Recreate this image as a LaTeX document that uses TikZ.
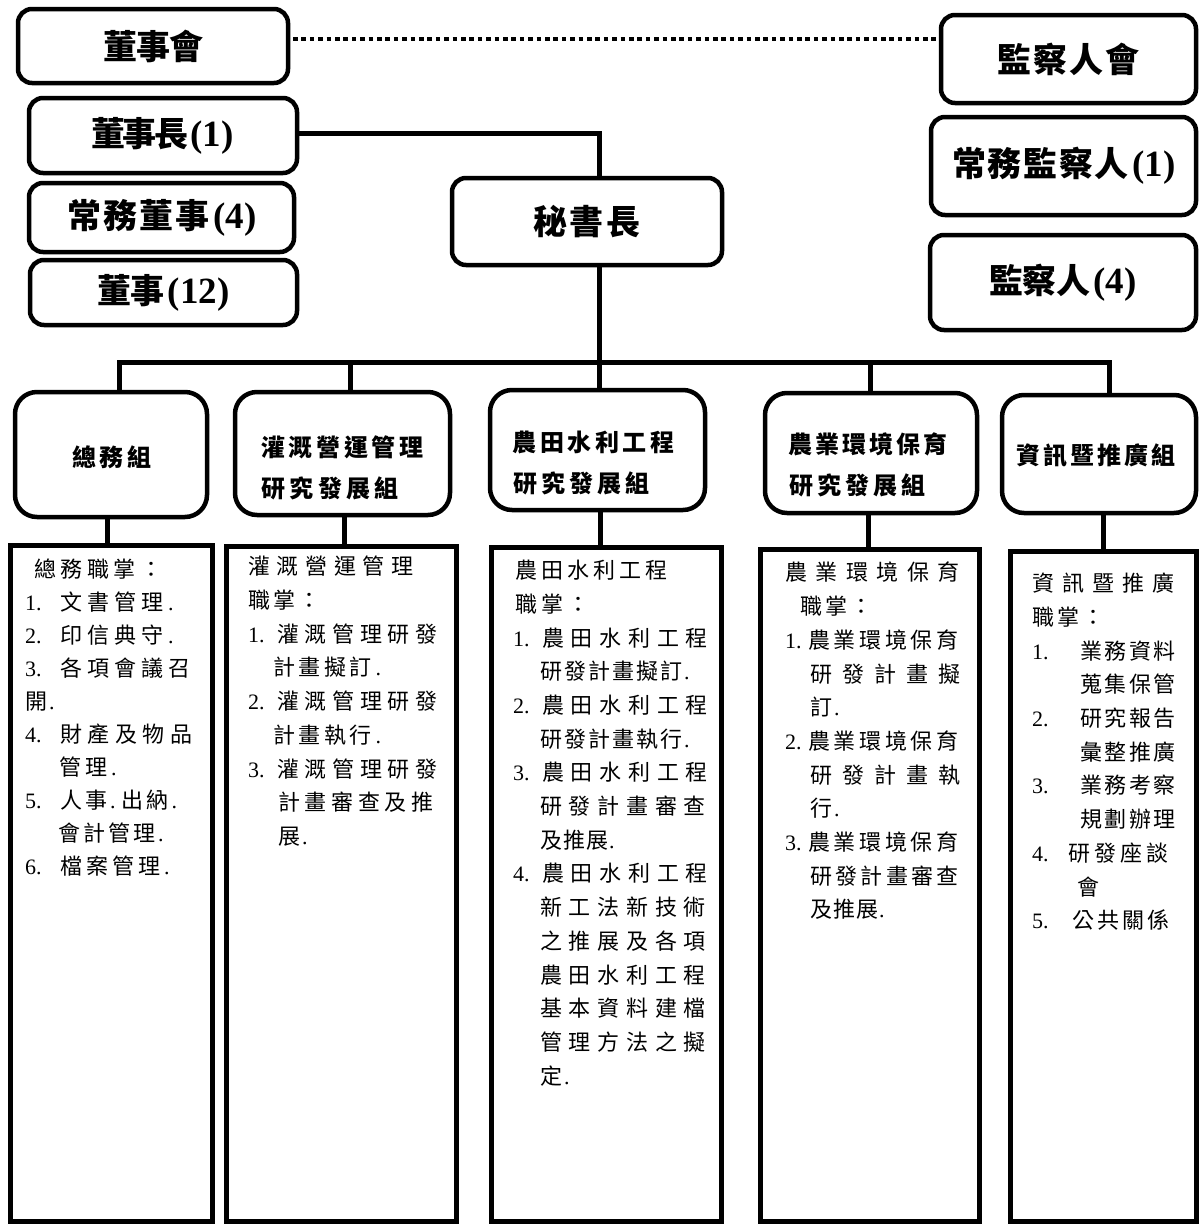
\documentclass[tikz,border=0pt]{standalone}
\usepackage{fontspec}
\setmainfont{Noto Sans CJK TC}
\newfontfamily\latf{Liberation Serif}
\makeatletter
\newcommand\cj[2]{\@tfor\cjt:=#2\do{\makebox[#1pt][l]{\cjt}}}
\newcommand\cjc[2]{\@tfor\cjt:=#2\do{\makebox[#1pt][c]{\cjt}}}
\makeatother
\newcommand\itm[2][29]{\makebox[#1pt][l]{\latf #2}}
\newcommand\pd{{\latf .}}
\newcommand\lp[1]{{\latf\bfseries\fontsize{37}{40}\selectfont\hspace{3pt}#1}}
\tikzset{
  topbox/.style={draw, line width=4.5pt, rounded corners=14pt, inner sep=0pt, outer sep=0pt,
    font=\bfseries\fontsize{34}{40}\selectfont},
  grpbox/.style={draw, line width=4.5pt, rounded corners=22pt, inner sep=0pt, outer sep=0pt},
  grptext/.style={inner sep=0pt, align=left, font=\bfseries\fontsize{24}{41}\selectfont},
  bodybox/.style={draw, line width=5pt, inner sep=0pt, outer sep=0pt},
  bodytext/.style={anchor=north west, inner sep=0pt, align=left, font=\fontsize{22}{33.7}\selectfont},
  conn/.style={line width=5pt},
  dotline/.style={line width=4.6pt, dash pattern=on 4.6pt off 3.8pt}
}
\begin{document}
\begin{tikzpicture}[x=1pt,y=-1pt]
\fill[white] (0,0) rectangle (1200,1226);
\useasboundingbox (0,0) rectangle (1200,1226);

% top boxes
\node[topbox, minimum width=270pt, minimum height=74pt] (bod) at (153,46) {\cjc{33}{董事會}};
\node[topbox, minimum width=268pt, minimum height=75pt] (chair) at (163,135.5) {\cjc{31.5}{董事長}\lp{(1)}};
\node[topbox, minimum width=265pt, minimum height=69pt] (std) at (161.5,217.5) {\cjc{36}{常務董事}\lp{(4)}};
\node[topbox, minimum width=267pt, minimum height=65pt] (dirs) at (163.5,292.5) {\cjc{33.5}{董事}\lp{(12)}};
\node[topbox, minimum width=270pt, minimum height=87pt] (sec) at (587,221.5) {\cjc{36.7}{秘書長}};
\node[topbox, minimum width=255pt, minimum height=88pt] (sup) at (1068.5,59) {\cjc{36}{監察人會}};
\node[topbox, minimum width=265pt, minimum height=98pt] (ssup) at (1063.5,166) {\cjc{35.6}{常務監察人}\lp{(1)}};
\node[topbox, minimum width=266pt, minimum height=95pt] (sups) at (1063,282.5) {\cjc{33.8}{監察人}\lp{(4)}};

% group boxes
\node[grpbox, minimum width=192pt, minimum height=125pt] (g1) at (111,454.5) {};
\node[grpbox, minimum width=215pt, minimum height=123pt] (g2) at (342.5,453.5) {};
\node[grpbox, minimum width=215pt, minimum height=120pt] (g3) at (597.5,450) {};
\node[grpbox, minimum width=212pt, minimum height=120pt] (g4) at (871,453) {};
\node[grpbox, minimum width=194pt, minimum height=118pt] (g5) at (1099,454) {};
\node[grptext] (gt1) at (112,457) {\cjc{27.4}{總務組}};
\node[grptext, anchor=west] (gt2) at (259,467.5) {\cjc{27.7}{灌溉營運管理}\\\cjc{28.4}{研究發展組}};
\node[grptext, anchor=west] (gt3) at (511,463) {\cjc{27.5}{農田水利工程}\\\cjc{28}{研究發展組}};
\node[grptext, anchor=west] (gt4) at (787,464.5) {\cjc{27}{農業環境保育}\\\cjc{28}{研究發展組}};
\node[grptext] (gt5) at (1095.5,456) {\cjc{27}{資訊暨推廣組}};

% body boxes
\node[bodybox, minimum width=202pt, minimum height=676pt] (b1) at (111,883) {};
\node[bodybox, minimum width=230pt, minimum height=675pt] (b2) at (341,883.5) {};
\node[bodybox, minimum width=230pt, minimum height=674pt] (b3) at (606,884) {};
\node[bodybox, minimum width=219pt, minimum height=672pt] (b4) at (869.5,885) {};
\node[bodybox, minimum width=186pt, minimum height=670pt] (b5) at (1103,886) {};

% body texts
\node[bodytext, font=\fontsize{22}{33}\selectfont] (t1) at (25,559) {%
\hspace*{9pt}\cj{26.5}{總務職掌：}\\
\itm[35]{1.}\cj{27}{文書管理}\pd\\
\itm[35]{2.}\cj{27}{印信典守}\pd\\
\itm[35]{3.}\cj{27}{各項會議召}\\
\cj{24}{開}\pd\\
\itm[35]{4.}\cj{27.5}{財產及物品}\\
\hspace*{34pt}\cj{26}{管理}\pd\\
\itm[35]{5.}\cj{25}{人事}\pd\hspace{6pt}\cj{25}{出納}\pd\\
\hspace*{33pt}\cj{25}{會計管理}\pd\\
\itm[35]{6.}\cj{26}{檔案管理}\pd};

\node[bodytext] (t2) at (248,556) {%
\cj{28.7}{灌溉營運管理}\\
\cj{25}{職掌：}\\
\itm{1.}\cj{27.7}{灌溉管理研發}\\
\hspace*{25pt}\cj{25.6}{計畫擬訂}\pd\\
\itm{2.}\cj{27.7}{灌溉管理研發}\\
\hspace*{25pt}\cj{25.6}{計畫執行}\pd\\
\itm{3.}\cj{27.7}{灌溉管理研發}\\
\hspace*{30pt}\cj{26.7}{計畫審查及推}\\
\hspace*{30pt}\cj{24}{展}\pd};

\node[bodytext] (t3) at (513,560) {%
\hspace*{2pt}\cj{26}{農田水利工程}\\
\hspace*{2pt}\cj{26}{職掌：}\\
\itm{1.}\cj{28.7}{農田水利工程}\\
\hspace*{27pt}\cj{24}{研發計畫擬訂}\pd\\
\itm{2.}\cj{28.7}{農田水利工程}\\
\hspace*{27pt}\cj{24}{研發計畫執行}\pd\\
\itm{3.}\cj{28.7}{農田水利工程}\\
\hspace*{27pt}\cj{28.7}{研發計畫審查}\\
\hspace*{27pt}\cj{23}{及推展}\pd\\
\itm{4.}\cj{28.7}{農田水利工程}\\
\hspace*{27pt}\cj{28.7}{新工法新技術}\\
\hspace*{27pt}\cj{28.7}{之推展及各項}\\
\hspace*{27pt}\cj{28.7}{農田水利工程}\\
\hspace*{27pt}\cj{28.7}{基本資料建檔}\\
\hspace*{27pt}\cj{28.7}{管理方法之擬}\\
\hspace*{27pt}\cj{24}{定}\pd};

\node[bodytext] (t4) at (785,562) {%
\cj{30.5}{農業環境保育}\\
\hspace*{15pt}\cj{25}{職掌：}\\
\itm[23]{1.}\cj{25.7}{農業環境保育}\\
\hspace*{25pt}\cj{32}{研發計畫擬}\\
\hspace*{25pt}\cj{24}{訂}\pd\\
\itm[23]{2.}\cj{25.7}{農業環境保育}\\
\hspace*{25pt}\cj{32}{研發計畫執}\\
\hspace*{25pt}\cj{24}{行}\pd\\
\itm[23]{3.}\cj{25.7}{農業環境保育}\\
\hspace*{25pt}\cj{25.3}{研發計畫審查}\\
\hspace*{25pt}\cj{23}{及推展}\pd};

\node[bodytext] (t5) at (1032,573) {%
\cj{30}{資訊暨推廣}\\
\cj{25}{職掌：}\\
\itm[48]{1.}\cj{24.4}{業務資料}\\
\hspace*{48pt}\cj{24.4}{蒐集保管}\\
\itm[48]{2.}\cj{24.4}{研究報告}\\
\hspace*{48pt}\cj{24.4}{彙整推廣}\\
\itm[48]{3.}\cj{24.4}{業務考察}\\
\hspace*{48pt}\cj{24.4}{規劃辦理}\\
\itm[36]{4.}\cj{26}{研發座談}\\
\hspace*{45pt}\cj{24}{會}\\
\itm[40]{5.}\cj{25}{公共關係}};

% connectors
\coordinate (j1) at (599,133);
\coordinate (dl) at (0,39);
\coordinate (bus) at (0,362);
\coordinate (d1) at (119,0);
\coordinate (d2) at (350,0);
\coordinate (d3) at (599,0);
\coordinate (d4) at (870,0);
\coordinate (d5) at (1109,0);
\coordinate (e1) at (107,0);
\coordinate (e2) at (344,0);
\coordinate (e3) at (600,0);
\coordinate (e4) at (868,0);
\coordinate (e5) at (1103,0);

\draw[dotline] ([xshift=5pt]bod.east |- dl) -- (sup.west |- dl);
\draw[conn] (chair.east |- j1) -- (j1) -- (j1 |- sec.north);
\draw[conn] (sec.south -| d3) -- (d3 |- g3.north);
\draw[conn] (d1 |- g1.north) -- (d1 |- bus) -- (d5 |- bus) -- (d5 |- g5.north);
\draw[conn] (d2 |- bus) -- (d2 |- g2.north);
\draw[conn] (d4 |- bus) -- (d4 |- g4.north);
\draw[conn] (e1 |- g1.south) -- (e1 |- b1.north);
\draw[conn] (e2 |- g2.south) -- (e2 |- b2.north);
\draw[conn] (e3 |- g3.south) -- (e3 |- b3.north);
\draw[conn] (e4 |- g4.south) -- (e4 |- b4.north);
\draw[conn] (e5 |- g5.south) -- (e5 |- b5.north);
\end{tikzpicture}
\end{document}
